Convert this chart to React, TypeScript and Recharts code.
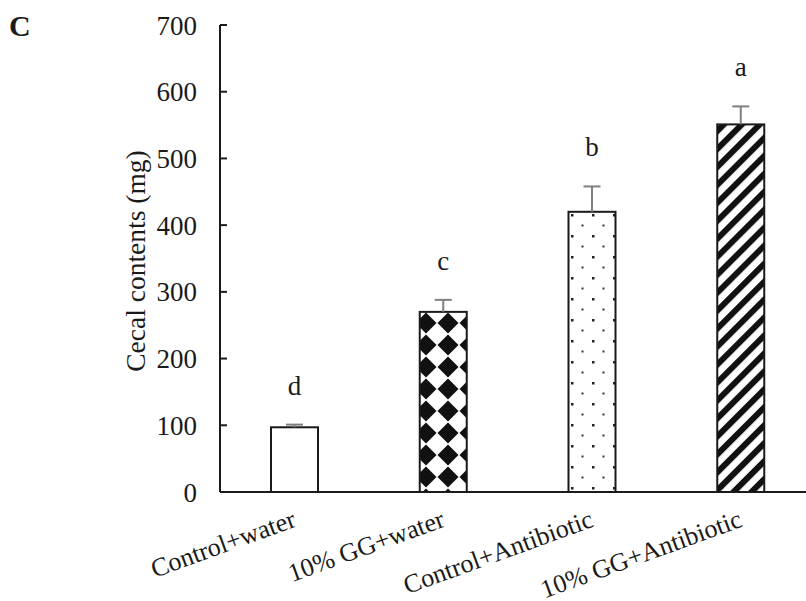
import React from "react";
import { BarChart, Bar, XAxis, YAxis } from "recharts";

const categories = ["Control+water", "10% GG+water", "Control+Antibiotic", "10% GG+Antibiotic"];
const means = [97, 270, 420, 551];
const errors = [4, 18, 38, 27];
const letters = ["d", "c", "b", "a"];
const fills = ["#ffffff", "url(#diamonds)", "url(#dots)", "url(#stripes)"];
const yTicks = [0, 100, 200, 300, 400, 500, 600, 700];

const data = categories.map((c, i) => ({ name: c, value: means[i], err: errors[i], letter: letters[i], fill: fills[i] }));

const FONT = "'Liberation Serif', 'Times New Roman', serif";

const BarShape = (props: any) => {
  const { x, y, width, height, payload } = props;
  const pxPerUnit = height / payload.value;
  const errPx = payload.err * pxPerUnit;
  const cx = x + width / 2;
  const topErr = y - errPx;
  return (
    <g>
      <rect x={x} y={y} width={width} height={height} fill={payload.fill} stroke="#1a1a1a" strokeWidth={2} />
      <line x1={cx} y1={y} x2={cx} y2={topErr} stroke="#7f7f7f" strokeWidth={2} />
      <line x1={cx - 8.5} y1={topErr} x2={cx + 8.5} y2={topErr} stroke="#7f7f7f" strokeWidth={2} />
      <text x={cx} y={topErr - 30} textAnchor="middle" fontFamily={FONT} fontSize={27} fill="#1a1a1a">
        {payload.letter}
      </text>
    </g>
  );
};

const YTick = (props: any) => {
  const { x, y, payload } = props;
  return (
    <g>
      <line x1={x + 23} y1={y} x2={x + 30} y2={y} stroke="#1a1a1a" strokeWidth={2} />
      <text x={x} y={y} dy="0.355em" textAnchor="end" fontFamily={FONT} fontSize={27} fill="#1a1a1a">
        {payload.value}
      </text>
    </g>
  );
};

const XTick = (props: any) => {
  const { x, y, payload } = props;
  const tx = x + 3;
  const ty = y + 26;
  return (
    <text x={tx} y={ty} textAnchor="end" fontFamily={FONT} fontSize={26} fill="#1a1a1a" transform={`rotate(-20, ${tx}, ${ty})`}>
      {payload.value}
    </text>
  );
};

export default function App() {
  return (
    <div style={{ position: "absolute", left: 0, top: 0, width: 806, height: 601, overflow: "hidden", background: "#fff" }}>
      <BarChart width={830} height={601} data={data} margin={{ top: 25, right: 15, bottom: 0, left: 0 }} barSize={47}>
        <defs>
          <pattern id="diamonds" patternUnits="userSpaceOnUse" width={22} height={22} x={-3} y={4}>
            <rect width={22} height={22} fill="#fff" />
            <polygon points="11,0.5 21.5,11 11,21.5 0.5,11" fill="#111" />
          </pattern>
          <pattern id="dots" patternUnits="userSpaceOnUse" width={21} height={21}>
            <rect width={21} height={21} fill="#fff" />
            <rect x={4} y={4} width={2.5} height={2.5} fill="#222" />
            <rect x={14.5} y={14.5} width={2} height={2} fill="#333" />
          </pattern>
          <pattern id="stripes" patternUnits="userSpaceOnUse" width={12.7} height={12.7} patternTransform="rotate(45)">
            <rect width={12.7} height={12.7} fill="#fff" />
            <rect x={0} y={0} width={6} height={12.7} fill="#111" />
          </pattern>
        </defs>
        <text x={9} y={36} fontFamily={FONT} fontSize={30} fontWeight="bold" fill="#1a1a1a">C</text>
        <text x={0} y={0} transform="translate(145, 261) rotate(-90)" textAnchor="middle" fontFamily={FONT} fontSize={27.5} fill="#1a1a1a">
          Cecal contents (mg)
        </text>
        <XAxis dataKey="name" height={109} tickLine={false} axisLine={{ stroke: "#1a1a1a", strokeWidth: 2 }} tick={<XTick />} interval={0} />
        <YAxis width={220} domain={[0, 700]} ticks={yTicks} tickSize={0} tickMargin={23} tickLine={false} axisLine={{ stroke: "#1a1a1a", strokeWidth: 2 }} tick={<YTick />} interval={0} />
        <Bar dataKey="value" shape={<BarShape />} isAnimationActive={false} />
      </BarChart>
    </div>
  );
}
